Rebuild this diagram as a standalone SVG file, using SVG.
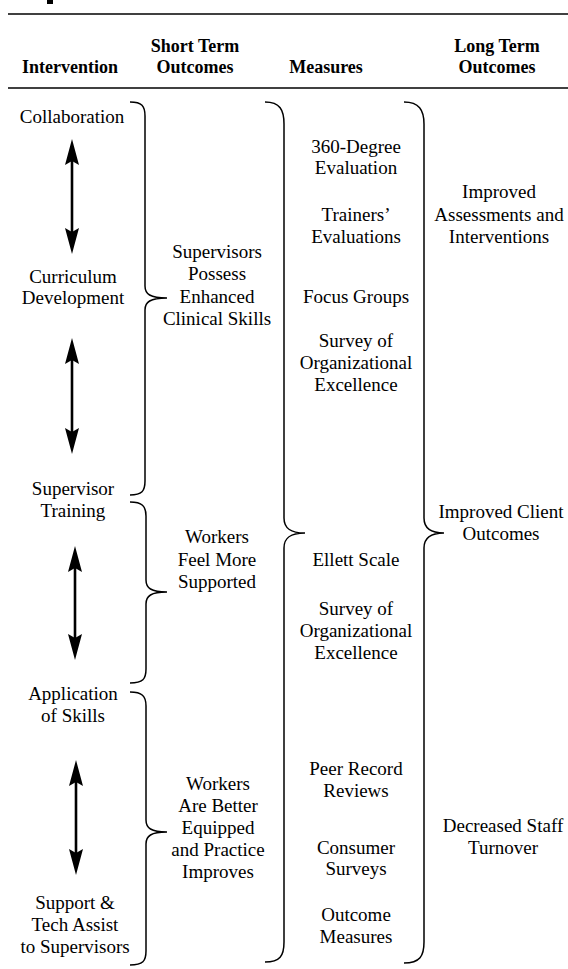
<svg xmlns="http://www.w3.org/2000/svg" width="568" height="969" viewBox="0 0 568 969">
<style>
text{font-family:"Liberation Serif","Times New Roman",serif;font-size:19px;fill:#000;text-anchor:middle}
.h{font-weight:bold;font-size:18px}
.rule{stroke:#000;stroke-width:1.6;fill:none}
.brace{stroke:#000;stroke-width:1.5;fill:none}
.arrow{stroke:#000;stroke-width:2.6;fill:none;marker-start:url(#ah);marker-end:url(#ah)}
</style>
<defs>
<marker id="ah" viewBox="0 0 26 14" refX="12" refY="7" markerWidth="26" markerHeight="14" markerUnits="userSpaceOnUse" orient="auto-start-reverse">
<path d="M0,0 L26,7 L0,14 L4,7 z" fill="#000"/>
</marker>
</defs>
<rect width="568" height="969" fill="#fff"/>
<rect x="47" y="0" width="6" height="4" fill="#000"/>
<g id="header">
<line class="rule" x1="8" y1="14" x2="568" y2="14"/>
<line class="rule" x1="8" y1="88" x2="568" y2="88"/>
<text class="h" x="70" y="73">Intervention</text>
<text class="h" x="195" y="52">Short Term</text>
<text class="h" x="195" y="73">Outcomes</text>
<text class="h" x="326" y="73">Measures</text>
<text class="h" x="497" y="52">Long Term</text>
<text class="h" x="497" y="73">Outcomes</text>
</g>
<g id="int-collaboration"><text x="72" y="123">Collaboration</text></g>
<g id="int-curriculum"><text x="73" y="283">Curriculum</text><text x="73" y="304">Development</text></g>
<g id="int-training"><text x="73" y="495">Supervisor</text><text x="73" y="517">Training</text></g>
<g id="int-application"><text x="73" y="700">Application</text><text x="73" y="722">of Skills</text></g>
<g id="int-support"><text x="75" y="909">Support &amp;</text><text x="75" y="931">Tech Assist</text><text x="75" y="953">to Supervisors</text></g>
<g id="st-skills"><text x="217" y="258">Supervisors</text><text x="217" y="280">Possess</text><text x="217" y="303">Enhanced</text><text x="217" y="325">Clinical Skills</text></g>
<g id="st-supported"><text x="217" y="543">Workers</text><text x="217" y="566">Feel More</text><text x="217" y="588">Supported</text></g>
<g id="st-equipped"><text x="218" y="790">Workers</text><text x="218" y="812">Are Better</text><text x="218" y="834">Equipped</text><text x="218" y="856">and Practice</text><text x="218" y="878">Improves</text></g>
<g id="m-360"><text x="356" y="153">360-Degree</text><text x="356" y="174">Evaluation</text></g>
<g id="m-trainers"><text x="356" y="221">Trainers’</text><text x="356" y="243">Evaluations</text></g>
<g id="m-focus"><text x="356" y="303">Focus Groups</text></g>
<g id="m-survey1"><text x="356" y="347">Survey of</text><text x="356" y="369">Organizational</text><text x="356" y="391">Excellence</text></g>
<g id="m-ellett"><text x="356" y="566">Ellett Scale</text></g>
<g id="m-survey2"><text x="356" y="615">Survey of</text><text x="356" y="637">Organizational</text><text x="356" y="659">Excellence</text></g>
<g id="m-peer"><text x="356" y="775">Peer Record</text><text x="356" y="797">Reviews</text></g>
<g id="m-consumer"><text x="356" y="854">Consumer</text><text x="356" y="875">Surveys</text></g>
<g id="m-outcome"><text x="356" y="921">Outcome</text><text x="356" y="943">Measures</text></g>
<g id="lt-assess"><text x="499" y="198">Improved</text><text x="499" y="221">Assessments and</text><text x="499" y="243">Interventions</text></g>
<g id="lt-client"><text x="501" y="518">Improved Client</text><text x="501" y="540">Outcomes</text></g>
<g id="lt-turnover"><text x="503" y="832">Decreased Staff</text><text x="503" y="854">Turnover</text></g>
<g id="connectors">
<line class="arrow" x1="72" y1="153" x2="72" y2="240"/>
<line class="arrow" x1="72" y1="352" x2="72" y2="440"/>
<line class="arrow" x1="75" y1="560" x2="75" y2="646"/>
<line class="arrow" x1="76" y1="774" x2="76" y2="861"/>
<path class="brace" d="M130,102 C142,102 145,106 145,116 L145,286 C145,294 150,298 167,298 C150,298 145,302 145,310 L145,481 C145,491 142,495 130,495"/>
<path class="brace" d="M130,502 C142,502 146,506 146,516 L146,580 C146,588 151,592 167,592 C151,592 146,596 146,604 L146,669 C146,679 143,683 130,683"/>
<path class="brace" d="M130,692 C142,692 146,696 146,706 L146,820 C146,828 151,832 167,832 C151,832 146,836 146,844 L146,951 C146,961 143,965 130,965"/>
<path class="brace" d="M265,102 C280,102 284,110 284,124 L284,518 C284,528 290,533 305,533 C290,533 284,538 284,548 L284,942 C284,956 280,962 265,962"/>
<path class="brace" d="M404,102 C419,102 424,110 424,124 L424,518 C424,528 430,533 444,533 C430,533 424,538 424,548 L424,942 C424,956 420,963 404,963"/>
</g>
</svg>
